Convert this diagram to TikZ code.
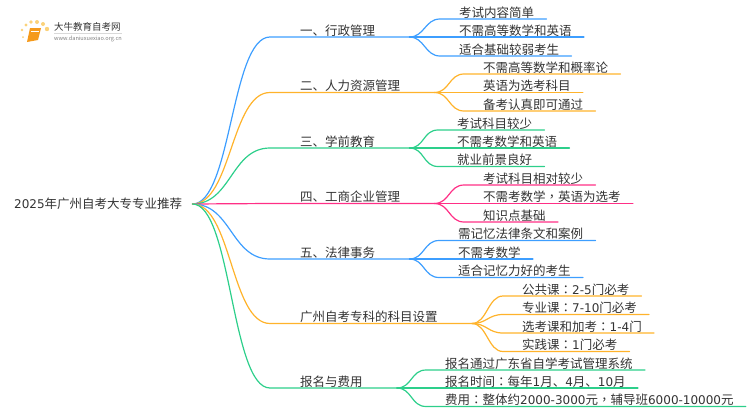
\documentclass[tikz,border=0pt]{standalone}
\usepackage{fontspec}
\setmainfont{Noto Sans CJK SC}
\newfontfamily\latinfont{DejaVu Sans}
\newfontfamily\tcfont{Noto Sans CJK TC}
\definecolor{lineblue}{HTML}{3D9EFF}
\definecolor{lineorange}{HTML}{FFB32B}
\definecolor{linegreen}{HTML}{2DCF8B}
\definecolor{linepink}{HTML}{FF2F86}
\definecolor{textgray}{HTML}{333333}
\definecolor{bookorange}{HTML}{F59A1B}
\definecolor{dotyellow}{HTML}{FBD27A}
\tikzset{
  txt/.style={anchor=south west,inner xsep=0pt,inner ysep=0.6pt,font=\fontsize{12.5}{14}\selectfont,text=textgray},
  rootnode/.style={anchor=west,inner xsep=10pt,inner ysep=1pt,font=\fontsize{12.5}{14}\selectfont,text=textgray},
  lne/.style={line width=1.2pt,line cap=round},
  dot/.style={fill=dotyellow,draw=none},
}
\newcommand{\num}[1]{{\latinfont\fontsize{12}{14}\selectfont #1}}
\newcommand{\pct}[1]{{\tcfont #1}}
\begin{document}
\begin{tikzpicture}[x=1pt,y=-1pt]
  \useasboundingbox (0,0) rectangle (750,410);
  % logo
  \foreach \px/\py/\pr in {23/37/1,22/30/1.3,26/25/1.6,31/22/1.9,37/22/2,43/24/2,47/29/2.2}
    \fill[dot] (\px,\py) circle (\pr);
  \fill[bookorange] (30,28) -- (41,28) -- (38,40) -- (27,42) -- cycle;
  \draw[white,line width=.5pt] (31,31) -- (39,31);
  \node[anchor=west,inner sep=0pt,text=textgray,font=\fontsize{9.5}{11}\selectfont] (logoname) at (54,27) {大牛教育自考网};
  \node[anchor=west,inner sep=0pt,text=gray,font=\fontsize{5.6}{7}\selectfont] (logourl) at (54,38.5) {www.daniuxuexiao.org.cn};
  \draw[black!15,line width=.5pt] (logoname.south west) ++(0,1.5) -- ++(68,0);
  % root
  \node[rootnode] (root) at (4,204) {\num{2025}年广州自考大专专业推荐};
  % branches
  \draw
    (300,37) node[txt] (a){一、行政管理}
    (300,92.5) node[txt] (b){二、人力资源管理}
    (300,148) node[txt] (c){三、学前教育}
    (300,203.5) node[txt] (d){四、工商企业管理}
    (300,259) node[txt] (e){五、法律事务}
    (300,323.5) node[txt] (f){广州自考专科的科目设置}
    (300,388) node[txt] (g){报名与费用};
  % leaves
  \draw
    (459,19) node[txt] (a1){考试内容简单}
    (459,37) node[txt] (a2){不需高等数学和英语}
    (459,56) node[txt] (a3){适合基础较弱考生}
    (483,74) node[txt] (b1){不需高等数学和概率论}
    (483,92.5) node[txt] (b2){英语为选考科目}
    (483,111) node[txt] (b3){备考认真即可通过}
    (457,130) node[txt] (c1){考试科目较少}
    (457,148) node[txt] (c2){不需考数学和英语}
    (457,166.5) node[txt] (c3){就业前景良好}
    (483,185) node[txt] (d1){考试科目相对较少}
    (483,203.5) node[txt] (d2){不需考数学\pct{，}英语为选考}
    (483,222) node[txt] (d3){知识点基础}
    (458,240.5) node[txt] (e1){需记忆法律条文和案例}
    (458,259) node[txt] (e2){不需考数学}
    (458,277.5) node[txt] (e3){适合记忆力好的考生}
    (522,296) node[txt] (f1){公共课\pct{：}\num{2-5}门必考}
    (522,314.5) node[txt] (f2){专业课\pct{：}\num{7-10}门必考}
    (522,333) node[txt] (f3){选考课和加考\pct{：}\num{1-4}门}
    (522,351.5) node[txt] (f4){实践课\pct{：}\num{1}门必考}
    (445,370) node[txt] (g1){报名通过广东省自学考试管理系统}
    (445,388) node[txt] (g2){报名时间\pct{：}每年\num{1}月、\num{4}月、\num{10}月}
    (445,406.5) node[txt] (g3){费用\pct{：}整体约\num{2000-3000}元\pct{，}辅导班\num{6000-10000}元};
  % connectors
  \foreach \name/\col in {a/lineblue,b/lineorange,c/linegreen,d/linepink,e/lineblue,f/lineorange,g/linegreen}
    \draw[lne,\col] (root.east) .. controls +(39,0) and +(-39,0) .. ([xshift=-30pt]\name.south west) -- ([xshift=34pt]\name.south east);
  \foreach \from/\to/\col in {a/a1/lineblue,a/a2/lineblue,a/a3/lineblue,b/b1/lineorange,b/b2/lineorange,b/b3/lineorange,
    c/c1/linegreen,c/c2/linegreen,c/c3/linegreen,d/d1/linepink,d/d2/linepink,d/d3/linepink,
    e/e1/lineblue,e/e2/lineblue,e/e3/lineblue,f/f1/lineorange,f/f2/lineorange,f/f3/lineorange,f/f4/lineorange,
    g/g1/linegreen,g/g2/linegreen,g/g3/linegreen}
    \draw[lne,\col] ([xshift=34pt]\from.south east) .. controls +(15,0) and +(-15,0) .. ([xshift=-19pt]\to.south west) -- ([xshift=12pt]\to.south east);
\end{tikzpicture}
\end{document}
